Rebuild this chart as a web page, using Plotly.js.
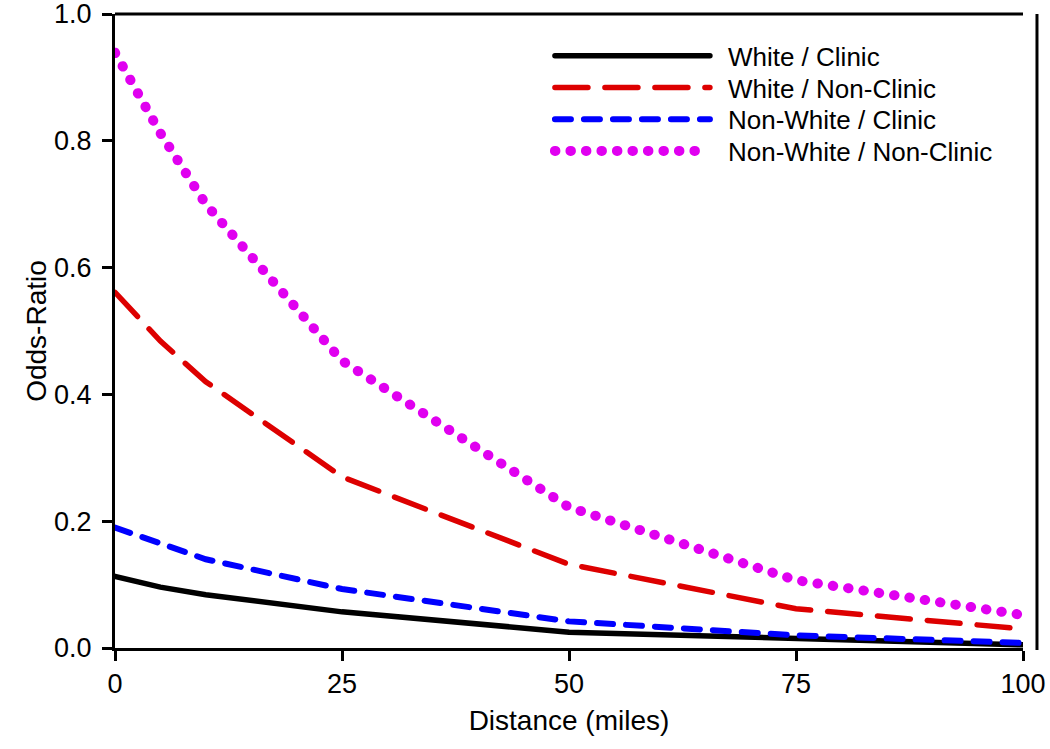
<!DOCTYPE html>
<html><head><meta charset="utf-8">
<script src="https://cdn.plot.ly/plotly-3.0.1.min.js"></script>
<style>html,body{margin:0;padding:0;background:#fff}</style>
</head><body><div id="chart" style="width:1050px;height:749px"></div>
<script>
const distance = [0, 5, 10, 25, 50, 75, 100];
const whiteClinic = [0.113, 0.096, 0.084, 0.057, 0.025, 0.014, 0.005];
const whiteNonClinic = [0.561, 0.484, 0.420, 0.270, 0.132, 0.062, 0.030];
const nonWhiteClinic = [0.190, 0.165, 0.140, 0.093, 0.042, 0.020, 0.008];
const nonWhiteNonClinic = [0.939, 0.812, 0.700, 0.453, 0.222, 0.107, 0.052];
const seriesNames = ['White / Clinic', 'White / Non-Clinic', 'Non-White / Clinic', 'Non-White / Non-Clinic'];
const xTicks = [0, 25, 50, 75, 100];
const yTicks = [0, 0.2, 0.4, 0.6, 0.8, 1.0];

const FONT = 'Liberation Sans, Arial, Helvetica, sans-serif';

const traces = [
  {x: distance, y: whiteClinic, name: seriesNames[0], mode: 'lines',
   line: {color: '#000000', width: 5.5}},
  {x: distance, y: whiteNonClinic, name: seriesNames[1], mode: 'lines',
   line: {color: '#dd0000', width: 5.5, dash: '33px,17px'}},
  {x: distance, y: nonWhiteClinic, name: seriesNames[2], mode: 'lines',
   line: {color: '#0000ff', width: 6, dash: '16px,13px'}},
  {x: distance, y: nonWhiteNonClinic, name: seriesNames[3], mode: 'lines',
   line: {color: '#e000f0', width: 10, dash: '0.5px,15px'}}
];

const axisCommon = {
  showline: true, linewidth: 3, linecolor: '#000',
  ticks: 'outside', ticklen: 10, tickwidth: 3, tickcolor: '#000',
  showgrid: false, zeroline: false, ticklabeloverflow: 'allow',
  tickfont: {family: FONT, size: 27, color: '#000'}
};

const layout = {
  width: 1050, height: 749,
  margin: {l: 115, r: 27, t: 14, b: 101, autoexpand: false},
  paper_bgcolor: '#fff', plot_bgcolor: '#fff',
  font: {family: FONT, color: '#000'},
  xaxis: Object.assign({}, axisCommon, {
    range: [0, 100], tickvals: xTicks,
    title: {text: 'Distance (miles)', font: {family: FONT, size: 28, color: '#000'}, standoff: 12}
  }),
  yaxis: Object.assign({}, axisCommon, {
    range: [0, 1], tickvals: yTicks, tickformat: '.1f', ticklabelstandoff: 5,
    title: {text: 'Odds-Ratio', font: {family: FONT, size: 28, color: '#000'}, standoff: 0}
  }),
  showlegend: true,
  legend: {
    x: 0.479, y: 0.971, xanchor: 'left', yanchor: 'top',
    bgcolor: 'rgba(0,0,0,0)', borderwidth: 0,
    font: {family: FONT, size: 26, color: '#000'},
    itemwidth: 168, tracegroupgap: 0
  },
  shapes: [
    {type: 'line', xref: 'paper', yref: 'paper', x0: 0, x1: 1, y0: 1, y1: 1,
     line: {color: '#000', width: 3}},
    {type: 'line', xref: 'paper', yref: 'paper', x0: 1.0154, x1: 1.0154, y0: -0.003, y1: 1,
     line: {color: '#000', width: 3}}
  ]
};

Plotly.newPlot('chart', traces, layout, {staticPlot: true, displayModeBar: false}).then(function (gd) {
  gd.querySelectorAll('.scatterlayer .js-line, .legend .js-line').forEach(function (p) {
    p.style.strokeLinecap = 'round';
  });
  gd.querySelectorAll('.legend .legendlines path').forEach(function (p) {
    p.setAttribute('d', 'M5,0h155');
  });
  var items = gd.querySelectorAll('.legend .traces');
  var y0 = null;
  items.forEach(function (g, i) {
    var t = g.getAttribute('transform') || '';
    var m = t.match(/translate\(([-\d.]+)[ ,]+([-\d.]+)\)/);
    if (!m) return;
    if (y0 === null) y0 = parseFloat(m[2]);
    g.setAttribute('transform', 'translate(' + m[1] + ',' + (y0 + i * 31.7) + ')');
  });
});
</script>
</body></html>
